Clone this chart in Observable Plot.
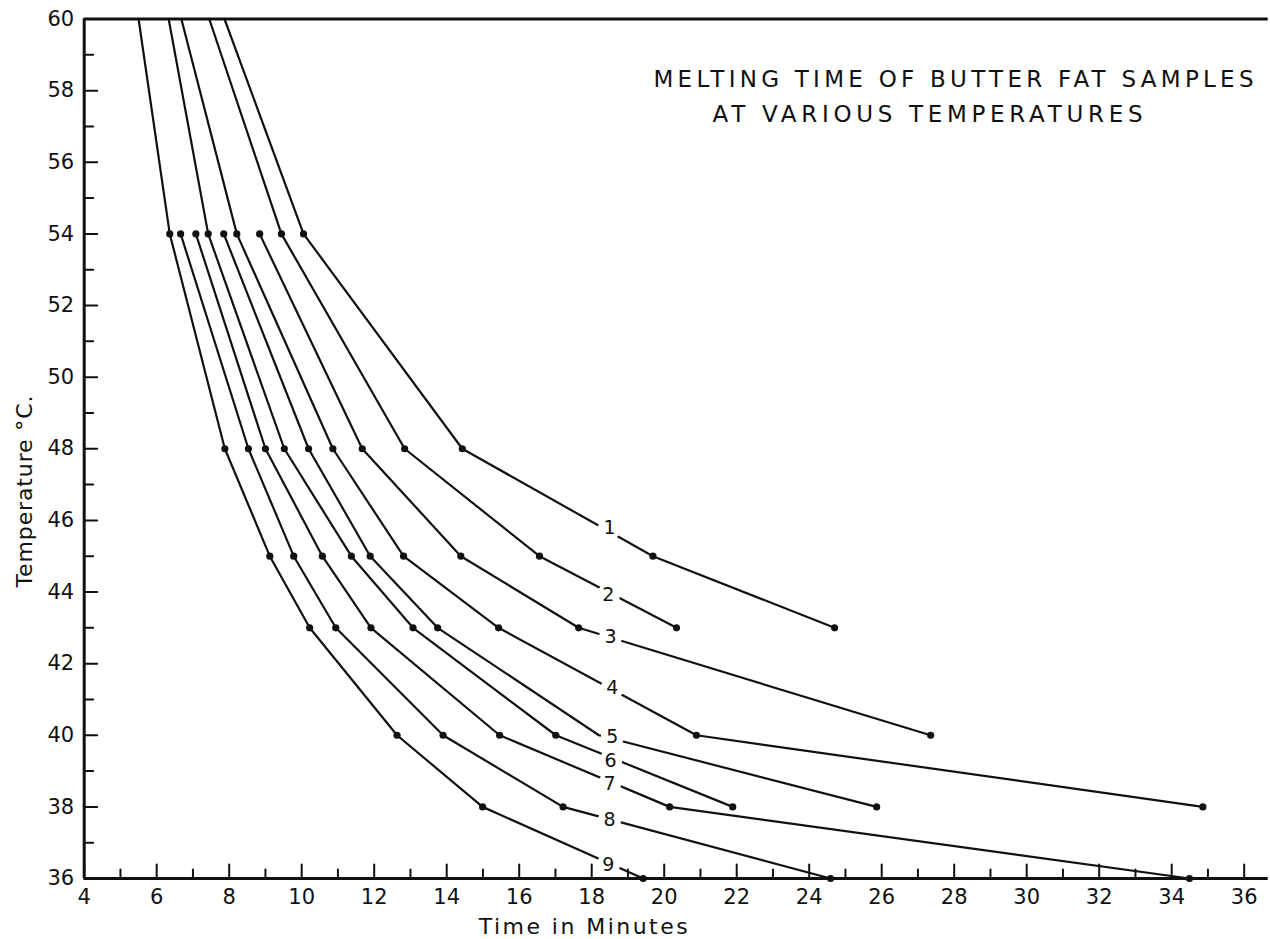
<!DOCTYPE html>
<html>
<head>
<meta charset="utf-8">
<script src="https://cdn.jsdelivr.net/npm/d3@7"></script>
<script src="https://cdn.jsdelivr.net/npm/@observablehq/plot@0.6"></script>
<style>
  html, body { margin: 0; padding: 0; background: #fff; }
  #chart svg { display: block; }
</style>
</head>
<body>
<div id="chart"></div>
<script>
// ---- data ----
const temps = [60, 54, 48, 45, 43, 40, 38, 36];            // °C
const curveNames = ["1", "2", "3", "4", "5", "6", "7", "8", "9"];
// melting time (minutes) at each temperature above; null = not measured
const sample1 = [7.87, 10.05, 14.43, 19.69, 24.70, null, null, null];
const sample2 = [7.45, 9.44, 12.84, 16.56, 20.34, null, null, null];
const sample3 = [null, 8.84, 11.67, 14.39, 17.64, 27.35, null, null];
const sample4 = [6.68, 8.21, 10.86, 12.81, 15.43, 20.89, 34.86, null];
const sample5 = [null, 7.85, 10.19, 11.89, 13.75, 18.20, 25.86, null];
const sample6 = [6.33, 7.42, 9.52, 11.37, 13.07, 17.01, 21.89, null];
const sample7 = [null, 7.08, 9.00, 10.57, 11.91, 15.46, 20.15, 34.49];
const sample8 = [null, 6.66, 8.53, 9.78, 10.94, 13.90, 17.21, 24.59];
const sample9 = [5.50, 6.36, 7.88, 9.12, 10.22, 12.63, 14.99, 19.42];
// points drawn without a visible dot (hidden under a curve label or the top rule)
const hiddenDots = [["5", 40]];
const hiddenDotTemp = 60;

// curve label positions (time, temperature)
const labelTime = [18.49, 18.46, 18.52, 18.57, 18.57, 18.52, 18.49, 18.49, 18.46];
const labelTemp = [45.78, 43.91, 42.74, 41.32, 39.95, 39.28, 38.63, 37.63, 36.38];

// axes
const xTickLabels = [4, 6, 8, 10, 12, 14, 16, 18, 20, 22, 24, 26, 28, 30, 32, 34, 36];
const xMinorTicks = [5, 7, 9, 11, 13, 15, 17, 19, 21, 23, 25, 27, 29, 31, 33, 35];
const yTickLabels = [36, 38, 40, 42, 44, 46, 48, 50, 52, 54, 56, 58, 60];
const yMinorTicks = [37, 39, 41, 43, 45, 47, 49, 51, 53, 55, 57, 59];
const titleLine1 = "MELTING TIME OF BUTTER FAT SAMPLES";
const titleLine2 = "AT VARIOUS TEMPERATURES";
const xTitle = "Time in Minutes";
const yTitle = "Temperature °C.";

// ---- build tables ----
const series = [sample1, sample2, sample3, sample4, sample5, sample6, sample7, sample8, sample9];
const rows = series.flatMap((vals, i) =>
  vals.map((t, j) => ({curve: curveNames[i], time: t, temp: temps[j]})).filter(d => d.time != null));
const dotRows = rows.filter(d => d.temp !== hiddenDotTemp &&
  !hiddenDots.some(([c, t]) => c === d.curve && t === d.temp));
const labels = curveNames.map((c, i) => ({curve: c, time: labelTime[i], temp: labelTemp[i]}));

const ink = "#111";
const font = "'DejaVu Sans', sans-serif";
const tickShape = {draw(context, l) { context.moveTo(0, 0); context.lineTo(0, -l); }};

const chart = Plot.plot({
  width: 1270,
  height: 939,
  marginLeft: 83.7,
  marginRight: 26.3,
  marginTop: 18.5,
  marginBottom: 61,
  style: {fontFamily: font, background: "#fff", color: ink},
  x: {domain: [4, 36]},
  y: {domain: [36, 60]},
  marks: [
    // frame lines
    Plot.ruleX([4], {stroke: ink, strokeWidth: 3}),
    Plot.ruleY([36], {stroke: ink, strokeWidth: 3, insetRight: -24}),
    Plot.ruleY([60], {stroke: ink, strokeWidth: 3, insetRight: -24}),
    // inward ticks
    Plot.vector(xTickLabels, {x: d => d, frameAnchor: "bottom", length: 14, anchor: "start", shape: tickShape, stroke: ink, strokeWidth: 2}),
    Plot.vector(xMinorTicks, {x: d => d, frameAnchor: "bottom", length: 9, anchor: "start", shape: tickShape, stroke: ink, strokeWidth: 2}),
    Plot.vector(yTickLabels, {y: d => d, frameAnchor: "left", rotate: 90, length: 13, anchor: "start", shape: tickShape, stroke: ink, strokeWidth: 2}),
    Plot.vector(yMinorTicks, {y: d => d, frameAnchor: "left", rotate: 90, length: 9, anchor: "start", shape: tickShape, stroke: ink, strokeWidth: 2}),
    // tick labels
    Plot.axisX({ticks: xTickLabels, tickSize: 0, tickPadding: 11, fontSize: 21, label: null, fill: ink}),
    Plot.axisY({ticks: yTickLabels, tickSize: 0, tickPadding: 10, fontSize: 21, label: null, fill: ink}),
    // data
    Plot.line(rows, {x: "time", y: "temp", z: "curve", stroke: ink, strokeWidth: 2.2}),
    Plot.dot(dotRows, {x: "time", y: "temp", r: 3.6, fill: ink}),
    // curve labels (white patch interrupts the line)
    Plot.dot(labels, {x: "time", y: "temp", r: 11.5, fill: "#fff"}),
    Plot.text(labels, {x: "time", y: "temp", text: "curve", fontSize: 19, fill: ink}),
    // titles
    Plot.text([titleLine1], {frameAnchor: "top-left", textAnchor: "start", lineAnchor: "top", dx: 569.3, dy: 51.5, fontSize: 23, fill: ink}),
    Plot.text([titleLine2], {frameAnchor: "top-left", textAnchor: "start", lineAnchor: "top", dx: 628.3, dy: 86.5, fontSize: 23, fill: ink}),
    Plot.text([xTitle], {frameAnchor: "bottom", textAnchor: "middle", lineAnchor: "top", dx: -81, dy: 40, fontSize: 22, fill: ink}),
    Plot.text([yTitle], {frameAnchor: "left", textAnchor: "middle", lineAnchor: "middle", rotate: -90, dx: -59.7, dy: 42.75, fontSize: 22, fill: ink})
  ]
});

// stretch lettering to the widths used on the reference
const stretch = new Map([[titleLine1, 600], [titleLine2, 430], [xTitle, 209], [yTitle, 192]]);
chart.querySelectorAll("text").forEach(t => {
  const len = stretch.get(t.textContent);
  if (len) {
    t.setAttribute("textLength", len);
    t.setAttribute("lengthAdjust", "spacing");
  }
});
document.getElementById("chart").appendChild(chart);
</script>
</body>
</html>
